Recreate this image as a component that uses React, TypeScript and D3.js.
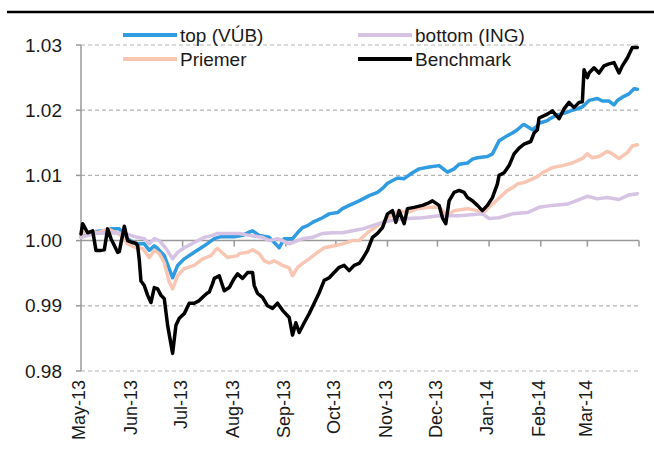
import React, { useRef, useEffect } from "react";
import * as d3 from "d3";

// index values (date, value)
const topVub: [string, number][] = [
  ["2013-05-01", 1.0005], ["2013-05-05", 1.001], ["2013-05-10", 1.0014], ["2013-05-15", 1.0015],
  ["2013-05-19", 1.0018], ["2013-05-24", 1.0018], ["2013-05-29", 1.0003], ["2013-06-03", 0.9995],
  ["2013-06-08", 0.9995], ["2013-06-11", 0.9985], ["2013-06-14", 0.9992], ["2013-06-16", 0.9988],
  ["2013-06-20", 0.9977], ["2013-06-25", 0.9943], ["2013-06-28", 0.9962], ["2013-07-02", 0.9972],
  ["2013-07-08", 0.9982], ["2013-07-14", 0.9992], ["2013-07-20", 1.0003], ["2013-07-24", 1.0006],
  ["2013-08-01", 1.0006], ["2013-08-06", 1.0008], ["2013-08-10", 1.0013], ["2013-08-12", 1.0015],
  ["2013-08-16", 1.0008], ["2013-08-22", 1.0005], ["2013-08-25", 0.9997], ["2013-08-28", 0.9989],
  ["2013-08-31", 1.0003], ["2013-09-05", 1.0003], ["2013-09-08", 1.0012], ["2013-09-11", 1.002],
  ["2013-09-14", 1.0023], ["2013-09-17", 1.0028], ["2013-09-23", 1.0035], ["2013-09-27", 1.0041],
  ["2013-10-02", 1.0043], ["2013-10-05", 1.0049], ["2013-10-09", 1.0054], ["2013-10-15", 1.0061],
  ["2013-10-21", 1.0069], ["2013-10-26", 1.0074], ["2013-10-29", 1.008], ["2013-11-01", 1.0088],
  ["2013-11-07", 1.0096], ["2013-11-11", 1.0095], ["2013-11-16", 1.0104], ["2013-11-20", 1.011],
  ["2013-11-26", 1.0113], ["2013-12-02", 1.0115], ["2013-12-07", 1.0105], ["2013-12-11", 1.011],
  ["2013-12-14", 1.0117], ["2013-12-19", 1.0119], ["2013-12-22", 1.0125], ["2013-12-25", 1.0127],
  ["2013-12-31", 1.0129], ["2014-01-03", 1.0133], ["2014-01-04", 1.0138], ["2014-01-07", 1.0153],
  ["2014-01-12", 1.0161], ["2014-01-15", 1.0165], ["2014-01-18", 1.017], ["2014-01-21", 1.0177],
  ["2014-01-22", 1.0178], ["2014-01-27", 1.017], ["2014-01-30", 1.0176], ["2014-01-31", 1.018],
  ["2014-02-05", 1.0184], ["2014-02-06", 1.0186], ["2014-02-11", 1.0193], ["2014-02-12", 1.0193],
  ["2014-02-17", 1.0197], ["2014-02-20", 1.02], ["2014-02-23", 1.0202], ["2014-02-26", 1.0205],
  ["2014-03-02", 1.0215], ["2014-03-07", 1.0218], ["2014-03-10", 1.0214], ["2014-03-14", 1.0214],
  ["2014-03-16", 1.021], ["2014-03-17", 1.0208], ["2014-03-19", 1.0215], ["2014-03-22", 1.022],
  ["2014-03-26", 1.0225], ["2014-03-29", 1.0233], ["2014-03-31", 1.0232],
];

const bottomIng: [string, number][] = [
  ["2013-05-01", 1.0005], ["2013-05-10", 1.0011], ["2013-05-20", 1.0012], ["2013-05-27", 1.0011],
  ["2013-05-31", 1.0008], ["2013-06-04", 1.0005], ["2013-06-08", 1.0003], ["2013-06-11", 0.9995],
  ["2013-06-14", 1.0003], ["2013-06-17", 1.0], ["2013-06-21", 0.9988], ["2013-06-25", 0.9972],
  ["2013-06-28", 0.9982], ["2013-07-02", 0.9989], ["2013-07-08", 0.9997], ["2013-07-14", 1.0005],
  ["2013-07-19", 1.0008], ["2013-07-22", 1.0011], ["2013-07-29", 1.0011], ["2013-08-04", 1.0011],
  ["2013-08-10", 1.0008], ["2013-08-18", 1.0005], ["2013-08-22", 1.0], ["2013-08-27", 1.0003],
  ["2013-08-30", 1.0], ["2013-09-03", 0.9995], ["2013-09-08", 1.0], ["2013-09-11", 1.0003],
  ["2013-09-17", 1.0005], ["2013-09-23", 1.0011], ["2013-09-29", 1.0012], ["2013-10-05", 1.0012],
  ["2013-10-11", 1.0015], ["2013-10-17", 1.0018], ["2013-10-23", 1.0023], ["2013-10-29", 1.0028],
  ["2013-11-04", 1.0031], ["2013-11-13", 1.0034], ["2013-11-22", 1.0035], ["2013-12-02", 1.0038],
  ["2013-12-14", 1.0038], ["2013-12-28", 1.0041], ["2014-01-01", 1.0034], ["2014-01-07", 1.0035],
  ["2014-01-15", 1.0041], ["2014-01-24", 1.0043], ["2014-01-31", 1.0051], ["2014-02-08", 1.0054],
  ["2014-02-17", 1.0056], ["2014-02-24", 1.0063], ["2014-03-01", 1.0068], ["2014-03-07", 1.0064],
  ["2014-03-13", 1.0066], ["2014-03-20", 1.0063], ["2014-03-26", 1.007], ["2014-03-31", 1.0072],
];

const priemer: [string, number][] = [
  ["2013-05-01", 1.0005], ["2013-05-02", 1.0012], ["2013-05-08", 1.0014], ["2013-05-11", 1.0012],
  ["2013-05-17", 1.0018], ["2013-05-22", 1.0012], ["2013-05-25", 1.0008], ["2013-05-29", 0.9995],
  ["2013-06-03", 0.9989], ["2013-06-07", 0.9988], ["2013-06-11", 0.9974], ["2013-06-14", 0.9985],
  ["2013-06-17", 0.998], ["2013-06-20", 0.9966], ["2013-06-23", 0.9936], ["2013-06-25", 0.9926],
  ["2013-06-28", 0.9946], ["2013-07-02", 0.9957], ["2013-07-08", 0.9962], ["2013-07-13", 0.9972],
  ["2013-07-18", 0.9977], ["2013-07-21", 0.9986], ["2013-07-22", 0.9988], ["2013-07-28", 0.9974],
  ["2013-08-03", 0.9977], ["2013-08-04", 0.998], ["2013-08-09", 0.9982], ["2013-08-12", 0.9986],
  ["2013-08-16", 0.998], ["2013-08-19", 0.9969], ["2013-08-22", 0.9966], ["2013-08-25", 0.9969],
  ["2013-08-30", 0.9962], ["2013-09-03", 0.9958], ["2013-09-05", 0.9946], ["2013-09-08", 0.9959],
  ["2013-09-11", 0.9965], ["2013-09-15", 0.9972], ["2013-09-20", 0.9982], ["2013-09-24", 0.9989],
  ["2013-09-30", 0.9992], ["2013-10-05", 0.9995], ["2013-10-11", 1.0], ["2013-10-15", 1.0],
  ["2013-10-17", 1.0005], ["2013-10-20", 1.0012], ["2013-10-26", 1.0023], ["2013-10-29", 1.0028],
  ["2013-11-04", 1.004], ["2013-11-08", 1.0046], ["2013-11-13", 1.0043], ["2013-11-19", 1.0049],
  ["2013-11-26", 1.0051], ["2013-12-02", 1.0051], ["2013-12-07", 1.0038], ["2013-12-11", 1.0046],
  ["2013-12-19", 1.0049], ["2013-12-25", 1.0046], ["2013-12-28", 1.0041], ["2014-01-01", 1.0051],
  ["2014-01-06", 1.0063], ["2014-01-12", 1.0077], ["2014-01-15", 1.0081], ["2014-01-18", 1.0087],
  ["2014-01-22", 1.0089], ["2014-01-30", 1.0098], ["2014-02-02", 1.0104], ["2014-02-08", 1.0112],
  ["2014-02-14", 1.0115], ["2014-02-20", 1.0119], ["2014-02-26", 1.0126], ["2014-03-01", 1.0133],
  ["2014-03-04", 1.0127], ["2014-03-08", 1.0129], ["2014-03-13", 1.0137], ["2014-03-16", 1.0133],
  ["2014-03-20", 1.0126], ["2014-03-25", 1.0135], ["2014-03-28", 1.0145], ["2014-03-31", 1.0147],
];

const benchmark: [string, number][] = [
  ["2013-05-01", 1.001], ["2013-05-02", 1.0026], ["2013-05-05", 1.0012], ["2013-05-08", 1.0015],
  ["2013-05-10", 0.9985], ["2013-05-13", 0.9985], ["2013-05-15", 0.9986], ["2013-05-17", 1.0018],
  ["2013-05-19", 1.0003], ["2013-05-23", 0.9982], ["2013-05-24", 0.9983], ["2013-05-27", 1.0022],
  ["2013-05-29", 1.0], ["2013-06-01", 0.9997], ["2013-06-03", 0.9996], ["2013-06-04", 0.9992],
  ["2013-06-05", 0.997], ["2013-06-06", 0.9938], ["2013-06-08", 0.9931], ["2013-06-10", 0.9916],
  ["2013-06-12", 0.9905], ["2013-06-14", 0.9928], ["2013-06-16", 0.9926], ["2013-06-18", 0.9916],
  ["2013-06-20", 0.9911], ["2013-06-22", 0.987], ["2013-06-25", 0.9827], ["2013-06-27", 0.987],
  ["2013-06-29", 0.9881], ["2013-07-02", 0.9888], ["2013-07-05", 0.9904], ["2013-07-08", 0.9904],
  ["2013-07-11", 0.9908], ["2013-07-13", 0.9913], ["2013-07-16", 0.992], ["2013-07-17", 0.9921],
  ["2013-07-19", 0.9934], ["2013-07-20", 0.9942], ["2013-07-23", 0.9946], ["2013-07-26", 0.9923],
  ["2013-07-29", 0.9928], ["2013-08-01", 0.9942], ["2013-08-03", 0.9949], ["2013-08-06", 0.9942],
  ["2013-08-09", 0.9951], ["2013-08-12", 0.9951], ["2013-08-13", 0.9931], ["2013-08-15", 0.9919],
  ["2013-08-18", 0.9913], ["2013-08-21", 0.99], ["2013-08-24", 0.9896], ["2013-08-27", 0.9904],
  ["2013-08-30", 0.9893], ["2013-09-03", 0.9882], ["2013-09-05", 0.9855], ["2013-09-07", 0.9874],
  ["2013-09-09", 0.9859], ["2013-09-12", 0.9874], ["2013-09-15", 0.9888], ["2013-09-18", 0.9904],
  ["2013-09-21", 0.992], ["2013-09-24", 0.9939], ["2013-09-27", 0.9943], ["2013-09-30", 0.9951],
  ["2013-10-03", 0.9959], ["2013-10-06", 0.9962], ["2013-10-09", 0.9954], ["2013-10-12", 0.9962],
  ["2013-10-15", 0.9965], ["2013-10-17", 0.9972], ["2013-10-20", 0.9985], ["2013-10-23", 1.0005],
  ["2013-10-26", 1.0011], ["2013-10-29", 1.002], ["2013-11-01", 1.0041], ["2013-11-04", 1.0046],
  ["2013-11-06", 1.0028], ["2013-11-08", 1.0046], ["2013-11-11", 1.0026], ["2013-11-13", 1.0049],
  ["2013-11-17", 1.0051], ["2013-11-22", 1.0054], ["2013-11-25", 1.0057], ["2013-11-28", 1.0061],
  ["2013-12-02", 1.0054], ["2013-12-04", 1.0035], ["2013-12-06", 1.0026], ["2013-12-08", 1.0061],
  ["2013-12-11", 1.0074], ["2013-12-14", 1.0077], ["2013-12-17", 1.0074], ["2013-12-19", 1.0066],
  ["2013-12-22", 1.0061], ["2013-12-25", 1.0054], ["2013-12-28", 1.0046], ["2013-12-31", 1.0054],
  ["2014-01-03", 1.0066], ["2014-01-06", 1.0087], ["2014-01-07", 1.01], ["2014-01-10", 1.0104],
  ["2014-01-13", 1.0115], ["2014-01-16", 1.0133], ["2014-01-19", 1.0142], ["2014-01-22", 1.0148],
  ["2014-01-26", 1.0152], ["2014-01-28", 1.0165], ["2014-01-30", 1.017], ["2014-01-31", 1.0188],
  ["2014-02-05", 1.0194], ["2014-02-08", 1.0199], ["2014-02-12", 1.0187], ["2014-02-15", 1.0202],
  ["2014-02-18", 1.0212], ["2014-02-21", 1.0204], ["2014-02-24", 1.0212], ["2014-02-26", 1.0213],
  ["2014-02-27", 1.0262], ["2014-03-01", 1.025], ["2014-03-02", 1.0257], ["2014-03-05", 1.0265],
  ["2014-03-08", 1.0257], ["2014-03-11", 1.0268], ["2014-03-14", 1.0271], ["2014-03-17", 1.0273],
  ["2014-03-20", 1.0257], ["2014-03-22", 1.0268], ["2014-03-25", 1.028], ["2014-03-28", 1.0296],
  ["2014-03-31", 1.0296],
];

const yTicks = [0.98, 0.99, 1.0, 1.01, 1.02, 1.03];
const monthStarts = [
  "2013-05-01", "2013-06-01", "2013-07-01", "2013-08-01", "2013-09-01", "2013-10-01",
  "2013-11-01", "2013-12-01", "2014-01-01", "2014-02-01", "2014-03-01", "2014-04-01",
];
const monthLabels = [
  "May-13", "Jun-13", "Jul-13", "Aug-13", "Sep-13", "Oct-13",
  "Nov-13", "Dec-13", "Jan-14", "Feb-14", "Mar-14",
];

const series = [
  { name: "top (VÚB)", data: topVub, color: "#2f9be0", width: 3.5, col: 0, row: 0 },
  { name: "Priemer", data: priemer, color: "#f8c6b3", width: 3.5, col: 0, row: 1 },
  { name: "bottom (ING)", data: bottomIng, color: "#d6c2e3", width: 3.5, col: 1, row: 0 },
  { name: "Benchmark", data: benchmark, color: "#000000", width: 3.5, col: 1, row: 1 },
];

const FONT = "'Liberation Sans', Arial, sans-serif";

export default function App() {
  const ref = useRef<SVGSVGElement>(null);

  useEffect(() => {
    const svg = d3.select(ref.current);
    svg.selectAll("*").remove();

    const parse = d3.utcParse("%Y-%m-%d");
    const x = d3.scaleUtc()
      .domain([parse("2013-05-01")!, parse("2014-04-01")!])
      .range([81, 639]);
    const y = d3.scaleLinear().domain([0.98, 1.03]).range([371, 45]);

    // top rule
    svg.append("line")
      .attr("x1", 7).attr("x2", 654).attr("y1", 12).attr("y2", 12)
      .attr("stroke", "#000").attr("stroke-width", 2.5);

    // dashed gridlines
    svg.append("g").selectAll("line")
      .data(yTicks.filter(d => d !== 1.0))
      .enter().append("line")
      .attr("x1", x.range()[0]).attr("x2", x.range()[1])
      .attr("y1", d => y(d)).attr("y2", d => y(d))
      .attr("stroke", "#b3b3b3").attr("stroke-width", 1.2)
      .attr("stroke-dasharray", "4,3");

    // y axis
    svg.append("line")
      .attr("x1", 81).attr("x2", 81).attr("y1", y(1.03)).attr("y2", y(0.98))
      .attr("stroke", "#999").attr("stroke-width", 1.5);
    svg.append("g").selectAll("line")
      .data(yTicks)
      .enter().append("line")
      .attr("x1", 76).attr("x2", 81)
      .attr("y1", d => y(d)).attr("y2", d => y(d))
      .attr("stroke", "#999").attr("stroke-width", 1.5);
    svg.append("g").selectAll("text")
      .data(yTicks)
      .enter().append("text")
      .attr("x", 62)
      .attr("y", d => y(d))
      .attr("dy", "0.35em")
      .attr("text-anchor", "end")
      .style("font-family", FONT)
      .style("font-size", "19px")
      .attr("fill", "#1a1a1a")
      .text(d => d.toFixed(2));

    // x axis along 1.00
    svg.append("line")
      .attr("x1", x.range()[0]).attr("x2", x.range()[1])
      .attr("y1", y(1.0)).attr("y2", y(1.0))
      .attr("stroke", "#999").attr("stroke-width", 1.5);
    svg.append("g").selectAll("line")
      .data(monthStarts.slice(1))
      .enter().append("line")
      .attr("x1", d => x(parse(d)!)).attr("x2", d => x(parse(d)!))
      .attr("y1", y(1.0)).attr("y2", y(1.0) + 6)
      .attr("stroke", "#999").attr("stroke-width", 1.5);

    // month labels, rotated
    svg.append("g").selectAll("text")
      .data(monthLabels)
      .enter().append("text")
      .attr("transform", (d, i) => `translate(${x(parse(monthStarts[i])!) - 2},380) rotate(-90)`)
      .attr("dy", "0.35em")
      .attr("text-anchor", "end")
      .style("font-family", FONT)
      .style("font-size", "18px")
      .attr("fill", "#1a1a1a")
      .text(d => d);

    // lines
    const line = d3.line<[string, number]>()
      .x(d => x(parse(d[0])!))
      .y(d => y(d[1]));
    svg.append("g").selectAll("path")
      .data(series)
      .enter().append("path")
      .attr("d", d => line(d.data))
      .attr("fill", "none")
      .attr("stroke", d => d.color)
      .attr("stroke-width", d => d.width)
      .attr("stroke-linejoin", "round")
      .attr("stroke-linecap", "round");

    // legend
    const legend = svg.append("g").selectAll("g")
      .data(series)
      .enter().append("g")
      .attr("transform", d => `translate(${123 + d.col * 235},${35 + d.row * 24})`);
    legend.append("line")
      .attr("x1", 0).attr("x2", 54).attr("y1", 0).attr("y2", 0)
      .attr("stroke", d => d.color)
      .attr("stroke-width", 4);
    legend.append("text")
      .attr("x", 57).attr("dy", "0.35em")
      .style("font-family", FONT)
      .style("font-size", "19px")
      .attr("fill", "#1a1a1a")
      .text(d => d.name);
  }, []);

  return (
    <svg
      ref={ref}
      width={654}
      height={453}
      style={{ position: "absolute", left: 0, top: 0, background: "#fff" }}
    />
  );
}
